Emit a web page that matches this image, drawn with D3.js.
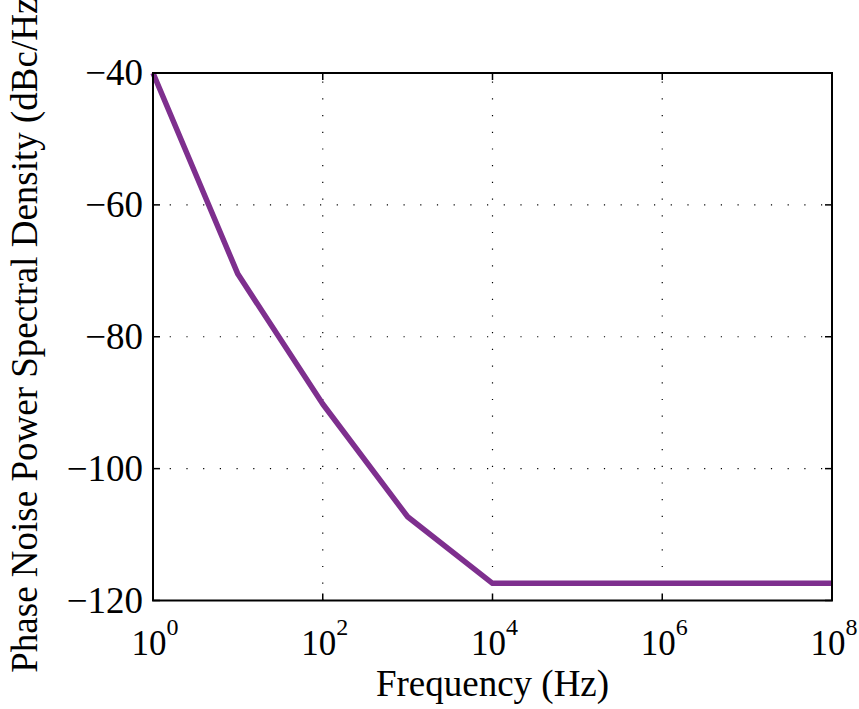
<!DOCTYPE html>
<html lang="en">
<head>
<meta charset="UTF-8">
<title>Phase Noise</title>
<script src="https://d3js.org/d3.v7.min.js"></script>
<style>
  body { margin: 0; background: white; }
  text { font-family: "Liberation Serif", "Times New Roman", serif; fill: black; }
</style>
</head>
<body>
<svg width="859" height="709"></svg>
<script>
// Data
var freq = [1, 10, 100, 1000, 10000, 1e8];
var noise = [-40, -70.5, -90.2, -107.3, -117.4, -117.4];
var xTicks = [1, 1e2, 1e4, 1e6, 1e8];
var xExps = ["0", "2", "4", "6", "8"];
var yTicks = [-40, -60, -80, -100, -120];

var svg = d3.select("svg");
var mLeft = 153, mRight = 832, mTop = 73, mBottom = 600.5;

var x = d3.scaleLog().domain([1, 1e8]).range([mLeft, mRight]);
var y = d3.scaleLinear().domain([-120, -40]).range([mBottom, mTop]);

// grid
var grid = svg.append("g")
    .attr("stroke", "black")
    .attr("stroke-width", 1.2)
    .attr("stroke-dasharray", "1.2,15.5");
grid.selectAll(".gx")
    .data(xTicks.slice(1, -1))
    .enter().append("line")
    .attr("x1", d => x(d)).attr("x2", d => x(d))
    .attr("y1", mBottom).attr("y2", mTop);
grid.selectAll(".gy")
    .data(yTicks.slice(1, -1))
    .enter().append("line")
    .attr("y1", d => y(d)).attr("y2", d => y(d))
    .attr("x1", mLeft).attr("x2", mRight);

// line
var line = d3.line()
    .x((d, i) => x(freq[i]))
    .y(d => y(d));
svg.append("path")
    .datum(noise)
    .attr("d", line)
    .attr("fill", "none")
    .attr("stroke", "#7E2F8E")
    .attr("stroke-width", 5.5)
    .attr("stroke-linejoin", "round");

// ticks (inside, on all four sides)
var tk = svg.append("g").attr("stroke", "black").attr("stroke-width", 1.5);
xTicks.forEach(function(d) {
    tk.append("line").attr("x1", x(d)).attr("x2", x(d)).attr("y1", mBottom).attr("y2", mBottom - 7);
    tk.append("line").attr("x1", x(d)).attr("x2", x(d)).attr("y1", mTop).attr("y2", mTop + 7);
});
yTicks.forEach(function(d) {
    tk.append("line").attr("y1", y(d)).attr("y2", y(d)).attr("x1", mLeft).attr("x2", mLeft + 7);
    tk.append("line").attr("y1", y(d)).attr("y2", y(d)).attr("x1", mRight).attr("x2", mRight - 7);
});

// frame
svg.append("rect")
    .attr("x", mLeft).attr("y", mTop)
    .attr("width", mRight - mLeft).attr("height", mBottom - mTop)
    .attr("fill", "none")
    .attr("stroke", "black")
    .attr("stroke-width", 2);

// x tick labels
xTicks.forEach(function(d, i) {
    var t = svg.append("text")
        .attr("x", x(d) + 2)
        .attr("y", 655)
        .attr("text-anchor", "middle")
        .attr("font-size", 35);
    t.append("tspan").text("10");
    t.append("tspan").attr("dy", -20).attr("font-size", 24).text(xExps[i]);
});

// y tick labels
svg.selectAll(".yl")
    .data(yTicks)
    .enter().append("text")
    .attr("x", 143)
    .attr("y", d => y(d) + 12)
    .attr("text-anchor", "end")
    .attr("font-size", 37)
    .text(d => "\u2212" + Math.abs(d));

// axis labels
svg.append("text")
    .attr("x", (mLeft + mRight) / 2)
    .attr("y", 696)
    .attr("text-anchor", "middle")
    .attr("font-size", 37)
    .text("Frequency (Hz)");

svg.append("text")
    .attr("transform", "translate(37,329) rotate(-90)")
    .attr("text-anchor", "middle")
    .attr("font-size", 37)
    .text("Phase Noise Power Spectral Density (dBc/Hz)");
</script>
</body>
</html>
